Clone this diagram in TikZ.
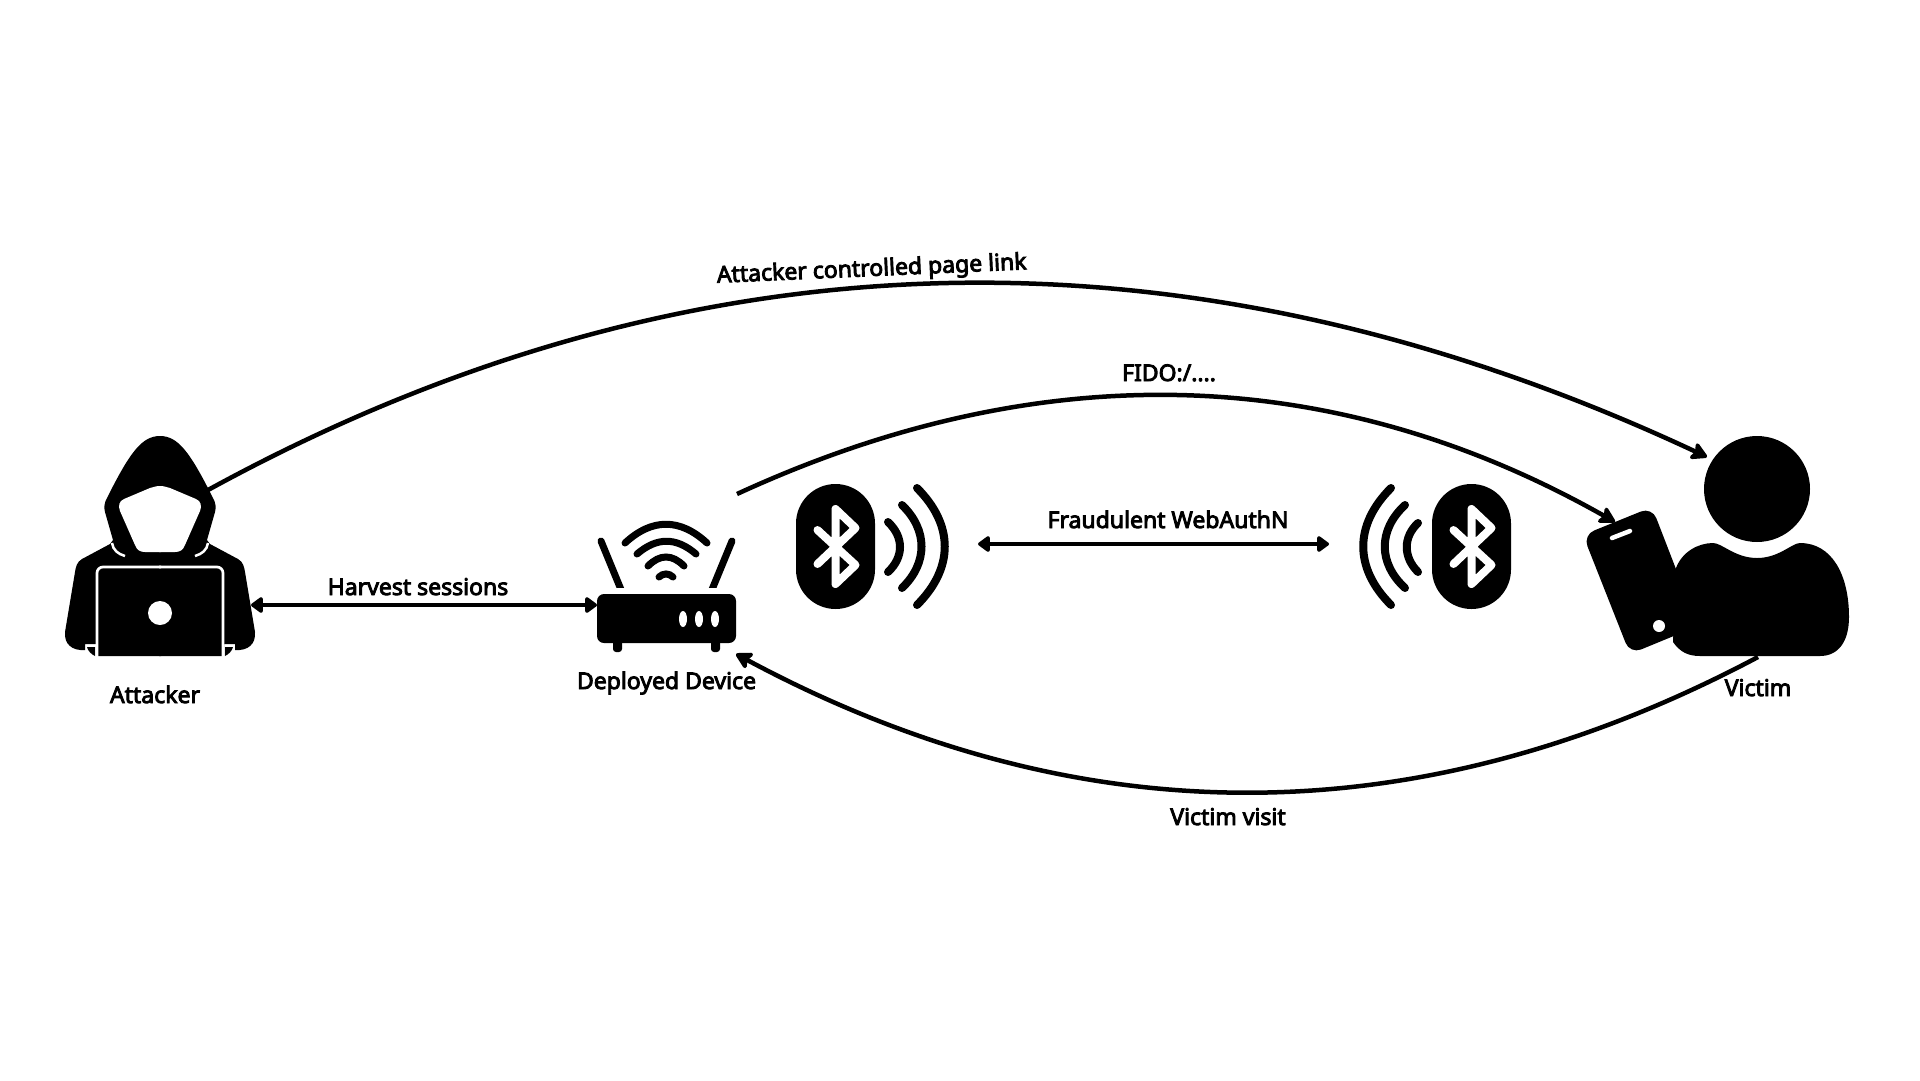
\documentclass[tikz,border=0pt]{standalone}
\usepackage{fontspec}
\setmainfont{Noto Sans}[AutoFakeBold=3.8]
\usetikzlibrary{arrows.meta}
\tikzset{
  lbl/.style={anchor=base,inner sep=0pt,font=\fontsize{23}{27}\selectfont\bfseries},
  link/.style={line width=4.5pt,-{Stealth[length=19pt,width=21pt,inset=4pt,round]}},
  both/.style={line width=4.5pt,{Triangle[length=13pt,width=18pt,round]}-{Triangle[length=13pt,width=18pt,round]}},
  signal/.style={line width=8pt,line cap=round},
  wave/.style={line width=7pt,line cap=round},
  btsym/.style={white,line width=8pt,line cap=round,line join=round}
}
\begin{document}
\begin{tikzpicture}[x=1pt,y=-1pt]
\useasboundingbox (0,0) rectangle (1920,1080);
\fill[white] (0,0) rectangle (1920,1080);
% attacker
\foreach \s in {1,-1} {
  \begin{scope}[xshift=160pt,xscale=\s]
    \fill (-1,436) -- (0,436) .. controls (18,436) and (30,452) .. (53,498)
      .. controls (56,503) and (56,508) .. (55,512) -- (47,540) -- (50,544) -- (78,559)
      .. controls (83,562) and (84,566) .. (85,572) -- (95,632)
      .. controls (96,644) and (88,651) .. (75,650) -- (75,644) -- (64,644) -- (64,656) -- (-1,656) -- cycle;
    \fill (65,647) -- (73,647) .. controls (72,651) and (69,654) .. (65,656) -- cycle;
  \end{scope}
}
\foreach \s in {1,-1} {
  \begin{scope}[xshift=160pt,xscale=\s]
    \fill[white] (-1,486) -- (0,486) .. controls (4,486) and (6,487) .. (10,488) -- (36,499)
      .. controls (41,501) and (42,506) .. (40,511) -- (25,545)
      .. controls (23,550) and (20,552) .. (15,552) -- (-1,552) -- cycle;
    \draw[white,line width=2.5pt] (48,543) .. controls (47,550) and (42,554) .. (35,556);
    \draw[white,line width=2.7pt,rounded corners=6pt] (-1,567) -- (63,567) -- (63,657);
  \end{scope}
}
\fill[white] (160,613) circle(12);
% router
\fill[rounded corners=7pt] (597,594) rectangle (736,643);
\fill[rounded corners=3pt] (613,640) rectangle (622,652);
\fill[rounded corners=3pt] (711,640) rectangle (720,652);
\foreach \x in {683,699,715} {
  \fill[white] (\x,619) ellipse(4 and 8);
}
\begin{scope}
  \clip (590,530) rectangle (745,587);
  \draw[wave] (601,541) -- (622,592);
  \draw[wave] (732,541) -- (711,592);
\end{scope}
\draw[wave] (625,543) .. controls (652,518) and (680,518) .. (707,543);
\draw[wave] (637,554) .. controls (657,537) and (676,537) .. (696,554);
\draw[wave] (648,566) .. controls (660,554) and (672,554) .. (684,566);
\draw[wave] (659,577) .. controls (663,573) and (669,573) .. (673,577);
% bluetooth
\foreach \x in {835.5,1471.5} {
  \fill[rounded corners=39.5pt] (\x-39.5,484) rectangle (\x+39.5,609);
  \draw[btsym] (\x-18,530) -- (\x+20,565) -- (\x,584) -- (\x,509) -- (\x+20,528) -- (\x-18,564);
}
\draw[signal] (888,522) .. controls (904,537) and (904,557) .. (888,572);
\draw[signal] (902,505) .. controls (928,530) and (928,563) .. (902,588);
\draw[signal] (917,488) .. controls (954,525) and (954,568) .. (917,605);
\draw[signal] (1418,523) .. controls (1403,537) and (1403,557) .. (1418,572);
\draw[signal] (1405,505) .. controls (1378,530) and (1378,563) .. (1405,588);
\draw[signal] (1391,488) .. controls (1354,525) and (1354,568) .. (1391,605);
% victim
\fill (1757,489) circle(53);
\fill[rounded corners=12pt] (1583,535) -- (1652,507) -- (1698,626) -- (1630,654) -- cycle;
\fill (1676,568) .. controls (1682,552) and (1698,543) .. (1713,543)
  .. controls (1722,543) and (1735,558) .. (1757,558)
  .. controls (1779,558) and (1792,543) .. (1800,543)
  .. controls (1832,543) and (1849,575) .. (1849,617)
  .. controls (1849,642) and (1838,656) .. (1820,656) -- (1700,656)
  .. controls (1688,656) and (1680,652) .. (1673,642) -- cycle;
\draw[white,line width=4.5pt,line cap=round] (1612,538) -- (1630,531);
\fill[white] (1659,626) circle(6);
% connector ends
\coordinate (atk) at (208,490);
\coordinate (atkside) at (251,605);
\coordinate (rtrleft) at (597,605);
\coordinate (rtrtop) at (737,494);
\coordinate (rtrlow) at (736,654);
\coordinate (vicphone) at (1615,522);
\coordinate (vichead) at (1707,457);
\coordinate (vicfoot) at (1758,657);
\coordinate (btleft) at (978,544);
\coordinate (btright) at (1329,544);
\draw[link] (atk) .. controls (690,226) and (1190,215) .. (vichead);
\draw[link] (rtrtop) .. controls (1041,354) and (1334,363) .. (vicphone);
\draw[link] (vicfoot) .. controls (1417,838) and (1077,837) .. (rtrlow);
\draw[both] (atkside) -- (rtrleft);
\draw[both] (btleft) -- (btright);
% labels
\node[lbl] (lblatk) at (155,703) {Attacker};
\node[lbl] (lbldev) at (666.5,689) {Deployed Device};
\node[lbl] (lblvic) at (1758,696) {Victim};
\node[lbl] (lblharv) at (418,595) {Harvest sessions};
\node[lbl] (lblfido) at (1169,381) {FIDO:/....};
\node[lbl] (lblfraud) at (1168,528) {Fraudulent WebAuthN};
\node[lbl] (lblvisit) at (1228,825) {Victim visit};
\node[lbl,rotate=2.5] (lblpage) at (872,276) {Attacker controlled page link};
\end{tikzpicture}
\end{document}
